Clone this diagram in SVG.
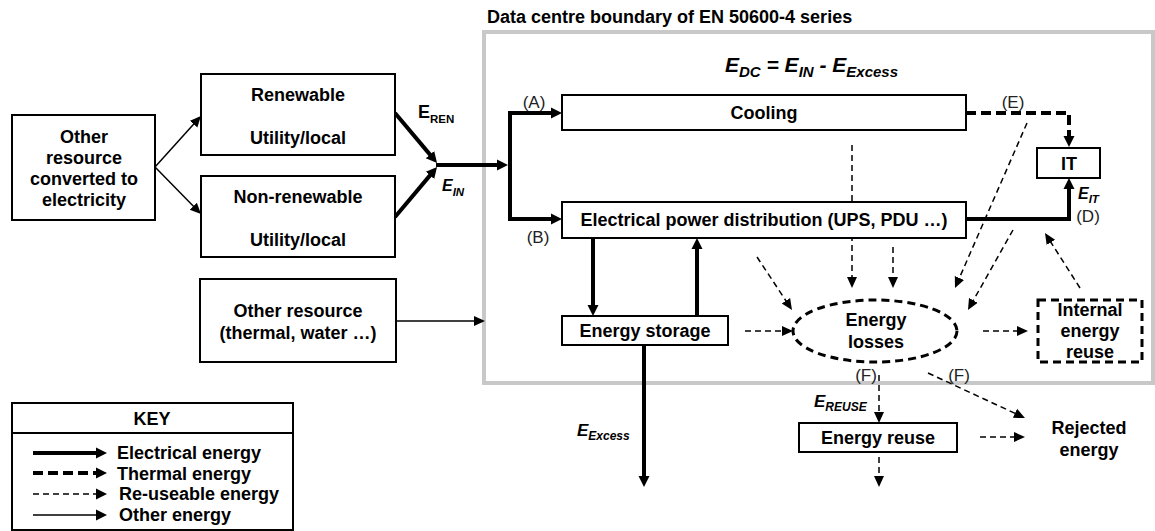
<svg xmlns="http://www.w3.org/2000/svg" width="1155" height="531" viewBox="0 0 1155 531">
<style>
.box{fill:#fff;stroke:#000;stroke-width:2}
.dbox{fill:#fff;stroke:#000;stroke-width:3;stroke-dasharray:8 5}
.t{font-family:"Liberation Sans",Arial,sans-serif;font-size:18px;font-weight:bold;fill:#000;text-anchor:middle}
.tl{font-family:"Liberation Sans",Arial,sans-serif;font-size:18px;font-weight:bold;fill:#000}
.lab{font-family:"Liberation Sans",Arial,sans-serif;font-size:17px;fill:#222;text-anchor:middle}
.ei{font-family:"Liberation Sans",Arial,sans-serif;font-weight:bold;font-style:italic;fill:#000}
.elec{fill:none;stroke:#000;stroke-width:4;marker-end:url(#ah)}
.therm{fill:none;stroke:#000;stroke-width:4;stroke-dasharray:10 5;marker-end:url(#ah)}
.reuse{fill:none;stroke:#000;stroke-width:1.5;stroke-dasharray:6 4;marker-end:url(#as)}
.other{fill:none;stroke:#000;stroke-width:1.5;marker-end:url(#as)}
</style>
<defs>
<marker id="ah" markerUnits="userSpaceOnUse" markerWidth="12" markerHeight="12" viewBox="0 0 12 12" refX="3" refY="6" orient="auto-start-reverse">
<path d="M0,0.5 L11,6 L0,11.5 z" fill="#000"/>
</marker>
<marker id="as" markerUnits="userSpaceOnUse" markerWidth="12" markerHeight="12" viewBox="0 0 12 12" refX="3" refY="6" orient="auto">
<path d="M0,1 L11,6 L0,11 z" fill="#000"/>
</marker>
</defs>

<!-- data centre boundary -->
<g id="boundary">
<rect x="484" y="32" width="669" height="351" fill="none" stroke="#c8c8c8" stroke-width="4"/>
<text class="tl" x="487" y="23">Data centre boundary of EN 50600-4 series</text>
<text class="ei" x="725" y="72" font-size="21">E<tspan font-size="15" dy="5">DC</tspan><tspan dy="-5"> = E</tspan><tspan font-size="15" dy="5">IN</tspan><tspan dy="-5"> - E</tspan><tspan font-size="15" dy="5">Excess</tspan></text>
</g>

<g id="connectors">
<!-- other energy -->
<line class="other" x1="155" y1="167" x2="195.6" y2="121.9"/>
<line class="other" x1="155" y1="167" x2="195.4" y2="208.3"/>
<line class="other" x1="396" y1="321" x2="477" y2="321"/>
<!-- electrical -->
<line class="elec" x1="395" y1="113" x2="431.9" y2="156.9"/>
<line class="elec" x1="395" y1="217" x2="431.9" y2="173.1"/>
<line class="elec" x1="436" y1="165" x2="500" y2="165"/>
<path class="elec" d="M554,113 H510 V219 H554" style="marker-start:url(#ah)"/>
<path class="elec" d="M966,219 H1069 V186"/>
<line class="elec" x1="593" y1="238" x2="593" y2="308"/>
<line class="elec" x1="697" y1="316" x2="697" y2="246"/>
<line class="elec" x1="644" y1="345" x2="644" y2="479"/>
<!-- thermal -->
<path class="therm" d="M966,113 H1069 V139"/>
<!-- re-useable -->
<line class="reuse" x1="852" y1="145" x2="852" y2="280"/>
<line class="reuse" x1="893" y1="247" x2="893" y2="280"/>
<line class="reuse" x1="1027" y1="123" x2="958.2" y2="280.7"/>
<line class="reuse" x1="1013" y1="230" x2="971.9" y2="303"/>
<line class="reuse" x1="1080" y1="288" x2="1049.3" y2="239.8"/>
<line class="reuse" x1="757" y1="257" x2="787.6" y2="303.3"/>
<line class="reuse" x1="745" y1="331" x2="785" y2="331"/>
<line class="reuse" x1="983" y1="331" x2="1020" y2="331"/>
<line class="reuse" x1="879" y1="375" x2="879" y2="415"/>
<line class="reuse" x1="928" y1="373" x2="1017.7" y2="414.6"/>
<line class="reuse" x1="980" y1="437" x2="1017" y2="437"/>
<line class="reuse" x1="879" y1="457" x2="879" y2="479"/>
</g>

<g id="connector-labels">
<text class="tl" x="418" y="118" font-size="16">E<tspan font-size="11.5" dy="5">REN</tspan></text>
<text class="ei" x="442" y="191" font-size="16">E<tspan font-size="11.5" dy="5">IN</tspan></text>
<text class="ei" x="1078" y="199" font-size="16">E<tspan font-size="11.5" dy="4">IT</tspan></text>
<text class="ei" x="577" y="436" font-size="17">E<tspan font-size="12" dy="4">Excess</tspan></text>
<text class="ei" x="814" y="407" font-size="17">E<tspan font-size="12" dy="4">REUSE</tspan></text>
<text class="lab" x="534" y="108">(A)</text>
<text class="lab" x="538" y="243">(B)</text>
<text class="lab" x="1013" y="108">(E)</text>
<text class="lab" x="1088" y="222">(D)</text>
<text class="lab" x="866" y="381">(F)</text>
<text class="lab" x="959" y="381">(F)</text>
</g>

<g id="other-resource-electricity">
<rect class="box" x="12" y="115" width="143" height="105"/>
<text class="t" x="84" y="142.5">Other</text>
<text class="t" x="84" y="163.5">resource</text>
<text class="t" x="84" y="184.5">converted to</text>
<text class="t" x="84" y="205.5">electricity</text>
</g>
<g id="renewable">
<rect class="box" x="201" y="74" width="194" height="81"/>
<text class="t" x="298" y="101">Renewable</text>
<text class="t" x="298" y="144">Utility/local</text>
</g>
<g id="non-renewable">
<rect class="box" x="201" y="176" width="194" height="81"/>
<text class="t" x="298" y="203">Non-renewable</text>
<text class="t" x="298" y="246">Utility/local</text>
</g>
<g id="other-resource">
<rect class="box" x="200" y="279" width="196" height="83"/>
<text class="t" x="298" y="317">Other resource</text>
<text class="t" x="298" y="339">(thermal, water …)</text>
</g>
<g id="cooling">
<rect class="box" x="562" y="95" width="404" height="35"/>
<text class="t" x="764" y="119">Cooling</text>
</g>
<g id="power-distribution">
<rect class="box" x="562" y="202" width="404" height="36"/>
<text class="t" x="764" y="226">Electrical power distribution (UPS, PDU …)</text>
</g>
<g id="it">
<rect class="box" x="1037" y="148" width="63" height="30"/>
<text class="t" x="1069" y="170">IT</text>
</g>
<g id="energy-storage">
<rect class="box" x="562" y="316" width="166" height="29"/>
<text class="t" x="645" y="337">Energy storage</text>
</g>
<g id="energy-losses">
<ellipse cx="875" cy="331" rx="82" ry="31" class="dbox"/>
<text class="t" x="876" y="326">Energy</text>
<text class="t" x="876" y="348">losses</text>
</g>
<g id="internal-reuse">
<rect class="dbox" x="1038" y="300" width="104" height="62"/>
<text class="t" x="1090" y="316">Internal</text>
<text class="t" x="1090" y="337">energy</text>
<text class="t" x="1090" y="358">reuse</text>
</g>
<g id="energy-reuse">
<rect class="box" x="799" y="423" width="158" height="29"/>
<text class="t" x="878" y="444">Energy reuse</text>
</g>
<g id="rejected-energy">
<text class="t" x="1089" y="434">Rejected</text>
<text class="t" x="1089" y="456">energy</text>
</g>

<g id="key">
<rect class="box" x="12" y="403" width="281" height="127"/>
<line x1="12" y1="433" x2="293" y2="433" stroke="#000" stroke-width="2"/>
<text class="t" x="152" y="425">KEY</text>
<line class="elec" x1="33" y1="453" x2="99" y2="453"/>
<line class="therm" x1="33" y1="473" x2="99" y2="473"/>
<line class="reuse" x1="33" y1="494" x2="99" y2="494" style="marker-end:url(#ah)"/>
<line class="other" x1="33" y1="515" x2="99" y2="515" style="marker-end:url(#ah)"/>
<text class="tl" x="117" y="459">Electrical energy</text>
<text class="tl" x="117" y="480">Thermal energy</text>
<text class="tl" x="119" y="500">Re-useable energy</text>
<text class="tl" x="119" y="521">Other energy</text>
</g>
</svg>
